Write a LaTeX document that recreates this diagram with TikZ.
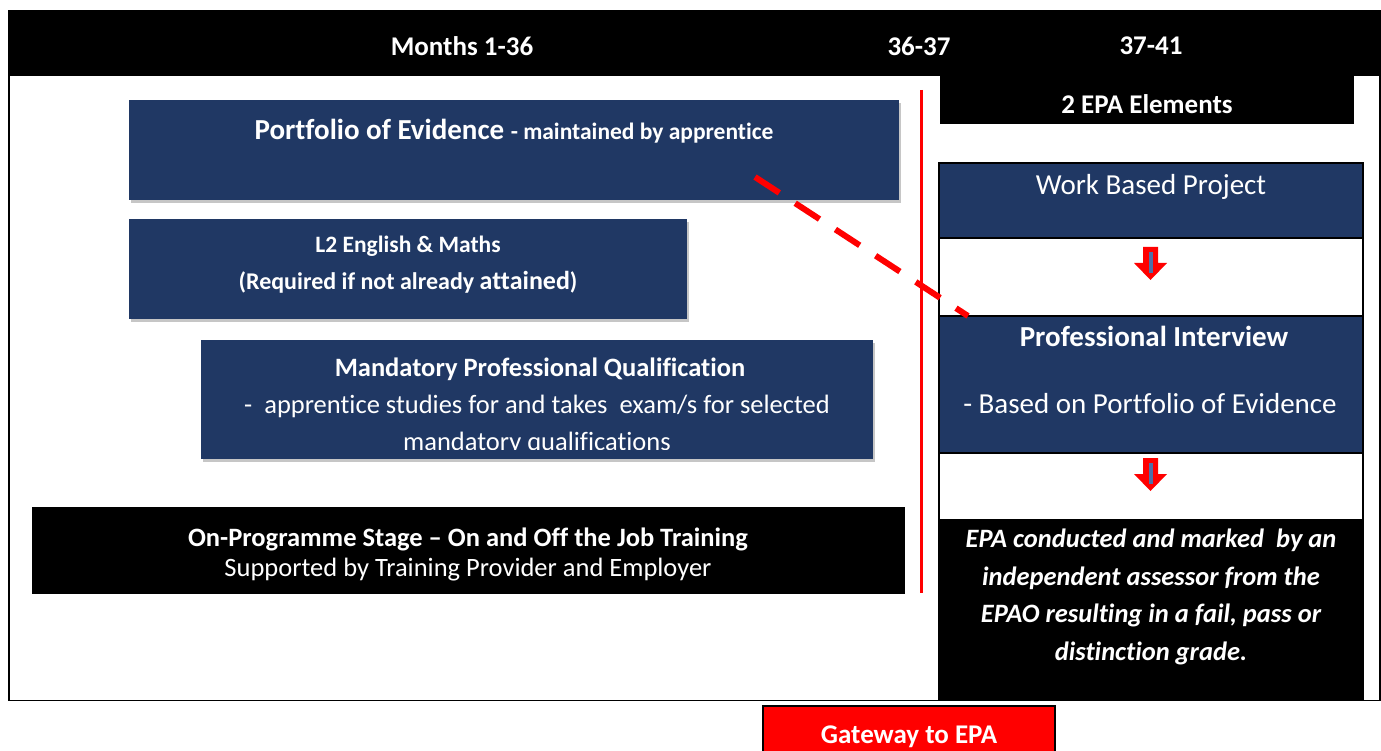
\documentclass[tikz,border=0pt]{standalone}
\usepackage{fontspec}
\setmainfont{Carlito}[Ligatures={NoCommon}]
\usetikzlibrary{shadows}
\definecolor{navy}{HTML}{203864}
\definecolor{stemblue}{HTML}{4F6FA8}
\definecolor{gwred}{HTML}{FF0000}
\begin{document}
\begin{tikzpicture}[x=1pt,y=-1pt,
  navybox/.style={fill=navy, draw=none, inner sep=0pt, drop shadow={opacity=0.45, shadow xshift=2pt, shadow yshift=-3pt}},
  blackbox/.style={fill=black, draw=none, inner sep=0pt},
  wtxt/.style={text=white, inner sep=0pt, align=center},
  sect/.style={draw=black, line width=2pt, inner sep=0pt},
  hdr/.style={wtxt, font=\bfseries\fontsize{27}{32}\selectfont}
]
\useasboundingbox (0,0) rectangle (1381,751);
% outer frame
\node[draw=black, line width=1.5pt, minimum width=1371pt, minimum height=690pt, inner sep=0pt] (frame) at (694.5,355.5) {};
% top bar
\node[blackbox, minimum width=1372pt, minimum height=66pt] (topbar) at (695,43) {};
\node[hdr] (m1) at (462,46) {Months 1-36};
\node[hdr] (m2) at (919,46) {36-37};
\node[hdr] (m3) at (1151,46) {37-41};
% 2 EPA elements
\node[blackbox, minimum width=414pt, minimum height=48pt] (epael) at (1147,100) {};
\node[hdr] (epat) at (1147,104) {2 EPA Elements};
% red vertical line
\coordinate (vt) at (921,90);
\coordinate (vb) at (921,593);
\draw[red, line width=3pt] (vt) -- (vb);
% Portfolio box
\node[navybox, minimum width=770pt, minimum height=100pt] (port) at (514,150) {};
\node[wtxt] (portt) at (514,131) {\bfseries\fontsize{29}{34}\selectfont Portfolio of Evidence \fontsize{23.5}{28}\selectfont - maintained by apprentice};
% L2 box
\node[navybox, minimum width=558pt, minimum height=100pt] (l2) at (408,269) {};
\node[wtxt, font=\bfseries\fontsize{23.5}{28}\selectfont] (l2a) at (408,246) {L2 English \& Maths};
\node[wtxt, font=\bfseries\fontsize{24}{28}\selectfont] (l2b) at (408,282) {(Required if not already {\fontsize{26}{28}\selectfont attained})};
% Mandatory box
\node[navybox, minimum width=672pt, minimum height=119pt] (mand) at (537,399.5) {};
\node[wtxt, font=\bfseries\fontsize{26.5}{31}\selectfont] (manda) at (540,369) {Mandatory Professional Qualification};
\begin{scope}
\clip (mand.north west) rectangle ([yshift=10pt]mand.south east);
\node[wtxt, font=\fontsize{26.5}{31}\selectfont] (mandb) at (537,406) {-\ \ apprentice studies for and takes\ \ exam/s for selected};
\node[wtxt, font=\fontsize{26.5}{31}\selectfont, anchor=base] (mandc) at (537,450) {mandatory qualifications};
\end{scope}
% On-programme box
\node[blackbox, minimum width=873pt, minimum height=87pt] (onp) at (468.5,550.5) {};
\node[wtxt, font=\bfseries\fontsize{26.5}{31}\selectfont] (onpa) at (468,539) {On-Programme Stage -- On and Off the Job Training};
\node[wtxt, font=\fontsize{26.5}{31}\selectfont] (onpb) at (468,570) {Supported by Training Provider and Employer};
% right column
\node[sect, fill=navy, minimum width=424pt, minimum height=75pt] (wbp) at (1151,200.5) {};
\node[wtxt, font=\fontsize{29}{34}\selectfont] (wbpt) at (1151,187) {Work Based Project};
\node[sect, fill=white, minimum width=424pt, minimum height=78pt] (gap1) at (1151,277) {};
\node[sect, fill=navy, minimum width=424pt, minimum height=137pt] (pint) at (1151,384.5) {};
\node[wtxt, font=\bfseries\fontsize{29}{34}\selectfont] (pinta) at (1154,336) {Professional Interview};
\node[wtxt, font=\fontsize{29}{34}\selectfont] (pintb) at (1150,404) {- Based on Portfolio of Evidence};
\node[sect, fill=white, minimum width=424pt, minimum height=67pt] (gap2) at (1151,486.5) {};
\node[sect, fill=black, minimum width=424pt, minimum height=180pt] (epac) at (1151,610) {};
\node[wtxt, font=\bfseries\itshape\fontsize{26.5}{37.5}\selectfont] (epact) at (1151,597) {EPA conducted and marked\ \ by an\\independent assessor from the\\EPAO resulting in a fail, pass or\\distinction grade.};
% arrows
\foreach \y in {247, 458}{
  \fill[red] (1143,\y) -- (1158,\y) -- (1158,\y+16) -- (1167,\y+16) -- (1150.5,\y+33) -- (1134,\y+16) -- (1143,\y+16) -- cycle;
  \fill[stemblue] (1148.5,\y+5) rectangle (1152.5,\y+26);
}
% dashed red connector
\coordinate (dA) at (755,177);
\coordinate (dB) at (968,316);
\draw[red, line width=6pt, dash pattern=on 29pt off 19pt] (dA) -- (dB);
% Gateway
\node[draw=black, line width=1.5pt, fill=gwred, minimum width=292pt, minimum height=50pt, inner sep=0pt] (gw) at (909,731) {};
\node[hdr] (gwt) at (909,737) {Gateway to EPA};
\end{tikzpicture}
\end{document}
